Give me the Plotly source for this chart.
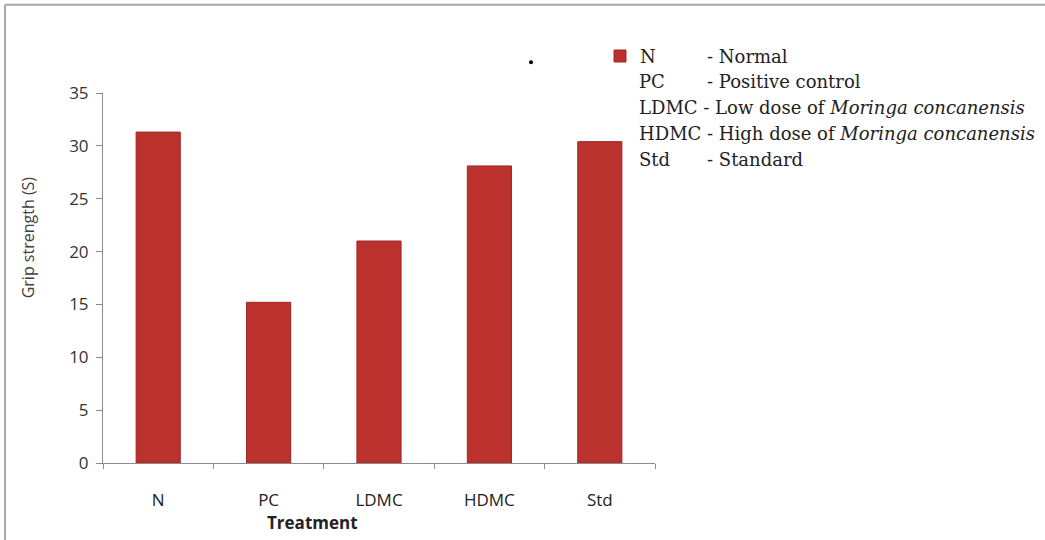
import plotly.graph_objects as go

categories = ["N", "PC", "LDMC", "HDMC", "Std"]
grip_strength = [31.3, 15.2, 21.0, 28.1, 30.4]
y_ticks = [0, 5, 10, 15, 20, 25, 30, 35]

legend_lines = [
    ("N", "- Normal"),
    ("PC", "- Positive control"),
    ("LDMC - Low dose of <i>Moringa concanensis</i>", None),
    ("HDMC - High dose of <i>Moringa concanensis</i>", None),
    ("Std", "- Standard"),
]

W, H = 1045, 540
L, R, T, B = 103, 390, 92.7, 77.3
pw, ph = W - L - R, H - T - B

def px(x):
    return (x - L) / pw

def py(y):
    return (H - B - y) / ph

fig = go.Figure()
fig.add_trace(go.Bar(
    x=categories, y=grip_strength, name="N",
    marker=dict(color="#bb312e", line=dict(color="#9e2826", width=1)),
    showlegend=True,
))

serif = "DejaVu Serif"
lfs = 18
line_y = [56, 81, 107, 133, 159]
ann = []
for i, (a, b) in enumerate(legend_lines):
    if i > 0:
        ann.append(dict(x=px(637), y=py(line_y[i]), xref="paper", yref="paper",
                        text=a, showarrow=False, xanchor="left", yanchor="middle",
                        font=dict(family=serif, size=lfs, color="#222")))
    if b is not None:
        ann.append(dict(x=px(705), y=py(line_y[i]), xref="paper", yref="paper",
                        text=b, showarrow=False, xanchor="left", yanchor="middle",
                        font=dict(family=serif, size=lfs, color="#222")))

sans = "Open Sans, sans-serif"
ann.append(dict(x=px(28), y=py(237), xref="paper", yref="paper",
                text="Grip strength (S)", textangle=-90, showarrow=False,
                xanchor="center", yanchor="middle",
                font=dict(family=sans, size=16, color="#404040")))
ann.append(dict(x=px(312), y=py(522), xref="paper", yref="paper",
                text="<b>Treatment</b>", showarrow=False,
                xanchor="center", yanchor="middle",
                font=dict(family=sans, size=17, color="#222")))

shapes = [
    dict(type="line", xref="paper", yref="paper", x0=px(5), x1=px(1045), y0=py(4.5), y1=py(4.5),
         line=dict(color="#a8a8a8", width=2)),
    dict(type="line", xref="paper", yref="paper", x0=px(5), x1=px(5), y0=py(4.5), y1=py(540),
         line=dict(color="#a8a8a8", width=2)),
    dict(type="circle", xref="paper", yref="paper", x0=px(529), x1=px(533), y0=py(60), y1=py(64),
         fillcolor="black", line=dict(color="black", width=0)),
]

fig.update_layout(
    width=W, height=H,
    margin=dict(l=L, r=R, t=T, b=B, autoexpand=False),
    paper_bgcolor="white", plot_bgcolor="white",
    bargap=0.6,
    showlegend=True,
    legend=dict(x=px(600), y=py(56), xanchor="left", yanchor="middle",
                font=dict(family=serif, size=lfs, color="#222"),
                bgcolor="rgba(0,0,0,0)", borderwidth=0, itemwidth=30,
                tracegroupgap=0),
    annotations=ann,
    shapes=shapes,
    xaxis=dict(
        range=[-0.5, 4.5], showline=True, linecolor="#8c8c8c", linewidth=1,
        ticks="outside", tickson="boundaries", ticklen=5, tickcolor="#8c8c8c",
        showgrid=False, zeroline=False, ticklabelstandoff=22,
        tickfont=dict(family=sans, size=17, color="#222"),
    ),
    yaxis=dict(
        range=[0, 35], tickvals=y_ticks, showline=True, linecolor="#8c8c8c", linewidth=1,
        ticks="outside", ticklen=6, tickcolor="#8c8c8c", showgrid=False, zeroline=False,
        ticklabelstandoff=4,
        tickfont=dict(family=sans, size=17, color="#333"),
    ),
)

fig.write_html("out.html", config={"displayModeBar": False},
               post_script="document.body.style.margin='0';")
